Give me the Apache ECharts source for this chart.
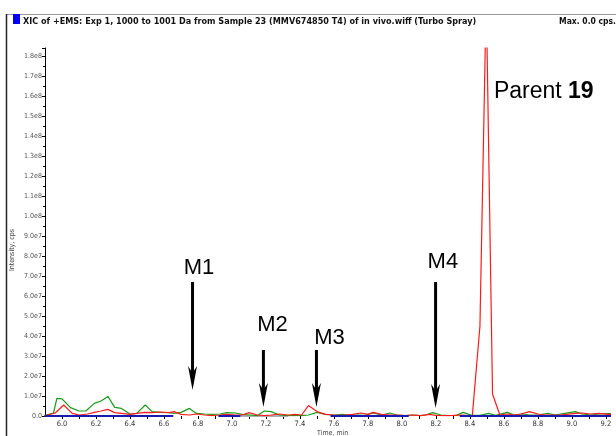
<!DOCTYPE html>
<html><head><meta charset="utf-8">
<script src="https://cdn.jsdelivr.net/npm/echarts@6/dist/echarts.min.js"></script>
<style>html,body{margin:0;padding:0;background:#fff}#c{width:616px;height:436px}</style>
</head><body><div id="c"></div>
<script>
// ---- data (time in min, intensity in cps) ----
const greenTime = [5.895,5.95,5.97,6.00,6.05,6.10,6.14,6.19,6.23,6.27,6.31,6.35,6.40,6.44,6.49,6.53,6.58,6.63,6.66,6.70,6.75,6.79,6.84,6.88,6.93,6.97,7.02,7.06,7.11,7.15,7.19,7.23,7.28,7.33,7.37,7.41,7.45,7.50,7.55,7.60,7.65,7.69,7.74,7.78,7.83,7.88,7.93,7.97,8.02,8.06,8.11,8.14,8.18,8.23,8.27,8.32,8.36,8.41,8.46,8.51,8.55,8.62,8.66,8.71,8.75,8.80,8.86,8.90,8.95,9.02,9.06,9.11,9.16,9.21,9.23];
const greenVal = [2e5,1.5e6,8.8e6,8.6e6,4.2e6,2.5e6,2.5e6,6.3e6,7.5e6,9.8e6,4.3e6,3.8e6,1.0e6,1.3e6,5.5e6,2.2e6,1.8e6,1.7e6,1.3e6,1.8e6,3.8e6,1.3e6,1.0e6,8e5,1.0e6,1.7e6,1.5e6,8e5,5e5,2e5,2.5e6,2.2e6,5e5,2e5,2e5,2e5,5e5,1.8e6,8e5,5e5,8e5,3e5,5e5,3e5,1.5e6,5e5,1.5e6,5e5,2e5,5e5,2e5,5e5,1.7e6,5e5,2e5,3e5,1.8e6,3e5,3e5,1.3e6,3e5,1.8e6,5e5,1.0e6,5e5,5e5,1.3e6,5e5,1.2e6,2.2e6,1.0e6,5e5,1.0e6,1.2e6,1.2e6];
const redTime = [5.895,5.96,6.01,6.06,6.10,6.15,6.19,6.23,6.27,6.31,6.35,6.40,6.44,6.49,6.53,6.58,6.63,6.66,6.70,6.75,6.79,6.84,6.88,6.93,6.97,7.02,7.06,7.10,7.15,7.19,7.23,7.28,7.33,7.37,7.41,7.45,7.50,7.55,7.60,7.65,7.71,7.76,7.80,7.83,7.88,7.93,7.97,8.02,8.06,8.11,8.16,8.20,8.25,8.30,8.36,8.414,8.459,8.496,8.533,8.576,8.62,8.66,8.70,8.75,8.80,8.84,8.88,8.93,8.97,9.02,9.06,9.11,9.16,9.21,9.23];
const redVal = [0,1.5e6,5.5e6,1.3e6,5e5,1.0e6,1.8e6,2.5e6,3.3e6,1.7e6,1.3e6,8e5,1.3e6,1.8e6,1.7e6,2.0e6,1.7e6,2.2e6,8e5,5e5,1.0e6,5e5,2e5,5e5,8e5,5e5,5e5,1.7e6,5e5,2e5,5e5,1.0e6,5e5,8e5,5e5,5.2e6,2.2e6,8e5,5e5,3e5,8e5,1.5e6,8e5,1.8e6,8e5,5e5,5e5,2e5,5e5,2e5,8e5,3e5,2e5,3e5,5e5,0,4.5e7,2.1e8,1.1e7,5e5,1.0e6,5e5,1.0e6,2.2e6,1.0e6,5e5,5e5,5e5,8e5,1.3e6,1.5e6,1.0e6,1.3e6,8e5,8e5];
const blueTime = [5.9,6.655,null,6.92,7.05,null,7.58,8.04,null,8.34,9.23];
const blueVal  = [0,0,null,0,0,null,0,0,null,0,0];
const grayTime = [7.05,7.33];
const grayVal  = [0,0];
const yTicks = ['0.0','1.0e7','2.0e7','3.0e7','4.0e7','5.0e7','6.0e7','7.0e7','8.0e7','9.0e7','1.0e8','1.1e8','1.2e8','1.3e8','1.4e8','1.5e8','1.6e8','1.7e8','1.8e8'];
const xTicks = ['6.0','6.2','6.4','6.6','6.8','7.0','7.2','7.4','7.6','7.8','8.0','8.2','8.4','8.6','8.8','9.0','9.2'];
// annotations: label, text position, arrow time, arrow top and tip intensities
const annLabels = ['M1','M2','M3','M4'];
const annTextTime = [6.806,7.238,7.574,8.241];
const annTextVal  = [7.4e7,4.55e7,3.9e7,7.7e7];
const annArrowTime = [6.768,7.185,7.497,8.198];
const annArrowTop  = [6.7e7,3.3e7,3.3e7,6.7e7];
const annArrowTip  = [1.3e7,0.45e7,0.45e7,0.4e7];
const parentTime = 8.541, parentVal = 1.62e8;

const zip = (t, v) => t.map((x, i) => x === null ? [null, null] : [x, v[i]]);
const NARROW = '"Liberation Sans Narrow","DejaVu Sans Condensed","Liberation Sans",sans-serif';

const chart = echarts.init(document.getElementById('c'), null, {renderer: 'canvas'});
chart.setOption({
  animation: false,
  backgroundColor: '#fff',
  grid: {left: 45, right: 5, top: 48, bottom: 20, containLabel: false},
  xAxis: {
    type: 'value', min: 5.9, max: 9.23, interval: 0.1,
    axisLine: {show: false},
    axisTick: {show: true, length: 3, lineStyle: {color: '#000', width: 1}},
    splitLine: {show: false},
    axisLabel: {
      showMinLabel: false, showMaxLabel: false, margin: 4,
      fontFamily: NARROW, fontSize: 7.5, color: '#333',
      formatter: v => { const k = Math.round(v * 10); return (k % 2 === 0 && xTicks.includes((k/10).toFixed(1))) ? (k/10).toFixed(1) : ''; }
    }
  },
  yAxis: {
    type: 'value', min: 0, max: 1.84e8, interval: 1e7,
    axisLine: {show: true, lineStyle: {color: '#000', width: 1}},
    axisTick: {show: true, length: 3, lineStyle: {color: '#000'}},
    minorTick: {show: true, splitNumber: 2, length: 2, lineStyle: {color: '#000'}},
    splitLine: {show: false},
    axisLabel: {
      showMaxLabel: false, margin: 3,
      fontFamily: NARROW, fontSize: 7, color: '#555',
      formatter: v => { const k = Math.round(v / 1e7); return Math.abs(v - k * 1e7) < 1 ? (yTicks[k] || '') : ''; }
    }
  },
  series: [
    {type: 'line', name: 'gray', data: zip(grayTime, grayVal), showSymbol: false, clip: false, lineStyle: {color: '#b0b0b0', width: 2}, z: 2},
    {type: 'line', name: 'green', data: zip(greenTime, greenVal), showSymbol: false, lineStyle: {color: '#1a9a1a', width: 1.2}, z: 3},
    {type: 'line', name: 'red', data: zip(redTime, redVal), showSymbol: false, lineStyle: {color: '#ff1a1a', width: 1.2}, z: 4},
    {type: 'line', name: 'blue', data: zip(blueTime, blueVal), showSymbol: false, clip: false, connectNulls: false, lineStyle: {color: '#1a1ab0', width: 2}, z: 5}
  ]
});

const px = (t, v) => chart.convertToPixel({gridIndex: 0}, [t, v]);
const g = [];
// frame + header
g.push({type: 'line', shape: {x1: 6, y1: 14.5, x2: 616, y2: 14.5}, style: {stroke: '#9a9a9a', lineWidth: 1}});
g.push({type: 'line', shape: {x1: 6.5, y1: 14, x2: 6.5, y2: 436}, style: {stroke: '#222', lineWidth: 1.5}});
g.push({type: 'rect', shape: {x: 13, y: 14, width: 7, height: 10}, style: {fill: '#0000f0'}});
g.push({type: 'text', x: 23, y: 22, style: {text: 'XIC of +EMS: Exp 1, 1000 to 1001 Da from Sample 23 (MMV674850 T4) of in vivo.wiff (Turbo Spray)', font: 'bold 9px ' + NARROW, fill: '#111', textVerticalAlign: 'middle'}});
g.push({type: 'text', x: 616, y: 22, style: {text: 'Max. 0.0 cps.', font: 'bold 8.5px ' + NARROW, fill: '#111', textAlign: 'right', textVerticalAlign: 'middle'}});
// axis titles
g.push({type: 'text', x: 12, y: 250, rotation: Math.PI / 2, style: {text: 'Intensity, cps', font: '7px ' + NARROW, fill: '#444', textAlign: 'center', textVerticalAlign: 'middle'}});
g.push({type: 'text', x: 317, y: 430, style: {text: 'Time, min', font: '7px ' + NARROW, fill: '#444', textAlign: 'left', textVerticalAlign: 'top'}});
// annotations
annLabels.forEach((lab, i) => {
  const tp = px(annTextTime[i], annTextVal[i]);
  g.push({type: 'text', x: tp[0], y: tp[1], style: {text: lab, font: '22px "Liberation Sans", Arial, sans-serif', fill: '#000', textAlign: 'center', textVerticalAlign: 'middle'}});
  const top = px(annArrowTime[i], annArrowTop[i]);
  const tip = px(annArrowTime[i], annArrowTip[i]);
  const x = tip[0];
  g.push({type: 'line', shape: {x1: x, y1: top[1], x2: x, y2: tip[1] - 16}, style: {stroke: '#000', lineWidth: 3}});
  g.push({type: 'polygon', shape: {points: [[x, tip[1]], [x - 4.5, tip[1] - 24], [x, tip[1] - 17], [x + 4.5, tip[1] - 24]]}, style: {fill: '#000'}});
});
const pp = px(parentTime, parentVal);
g.push({type: 'text', x: pp[0], y: pp[1], style: {text: '{a|Parent }{b|19}', rich: {a: {font: '23px "Liberation Sans", Arial, sans-serif', fill: '#000'}, b: {font: 'bold 23px "Liberation Sans", Arial, sans-serif', fill: '#000'}}, textVerticalAlign: 'middle'}});
chart.setOption({graphic: g});
</script></body></html>
